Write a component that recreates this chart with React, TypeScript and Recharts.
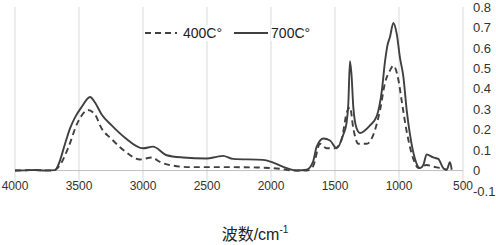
import React from 'react';
import { LineChart, Line, XAxis, YAxis, CartesianGrid, ReferenceLine, Legend, Label } from 'recharts';

const seriesNames = ['400C°', '700C°'];

const wn700 = [4000, 3922, 3844, 3766, 3688, 3662, 3609, 3570, 3531, 3479, 3414, 3375, 3323, 3245, 3141, 3000, 2922, 2815, 2688, 2502, 2424, 2375, 2297, 2063, 1984, 1877, 1799, 1721, 1672, 1643, 1591, 1539, 1487, 1435, 1409, 1396, 1383, 1370, 1357, 1331, 1305, 1227, 1174, 1135, 1109, 1091, 1070, 1044, 1018, 992, 966, 940, 914, 875, 836, 810, 784, 732, 693, 654, 627, 602, 588];
const abs700 = [0.0, 0.001, 0.003, 0.0, 0.002, 0.027, 0.131, 0.206, 0.26, 0.311, 0.36, 0.333, 0.274, 0.221, 0.161, 0.109, 0.117, 0.075, 0.064, 0.059, 0.067, 0.072, 0.057, 0.052, 0.039, 0.012, 0.0, 0.004, 0.042, 0.117, 0.157, 0.147, 0.109, 0.176, 0.236, 0.327, 0.535, 0.46, 0.31, 0.206, 0.184, 0.221, 0.266, 0.386, 0.535, 0.61, 0.655, 0.722, 0.67, 0.55, 0.46, 0.296, 0.176, 0.057, 0.012, 0.027, 0.079, 0.064, 0.057, 0.012, 0.004, 0.041, 0.004];

const wn400 = [4000, 3850, 3700, 3648, 3586, 3508, 3430, 3375, 3323, 3245, 3141, 3023, 2932, 2867, 2766, 2633, 2375, 2112, 1930, 1828, 1721, 1672, 1617, 1565, 1500, 1448, 1409, 1383, 1357, 1318, 1253, 1200, 1148, 1109, 1070, 1044, 1005, 979, 940, 888, 849, 784, 732, 680, 627];
const abs400 = [0.0, 0.002, 0.0, 0.027, 0.109, 0.238, 0.296, 0.274, 0.206, 0.154, 0.094, 0.054, 0.064, 0.042, 0.024, 0.017, 0.017, 0.015, 0.009, 0.0, 0.0, 0.02, 0.131, 0.109, 0.109, 0.154, 0.281, 0.31, 0.206, 0.131, 0.131, 0.176, 0.296, 0.43, 0.49, 0.513, 0.445, 0.341, 0.191, 0.057, 0.012, 0.027, 0.019, 0.012, 0.004];

const xTicks = [4000, 3500, 3000, 2500, 2000, 1500, 1000, 500];
const yTicks = [-0.1, 0, 0.1, 0.2, 0.3, 0.4, 0.5, 0.6, 0.7, 0.8];

const data700 = wn700.map((w, i) => ({ wn: w, v: abs700[i] }));
const data400 = wn400.map((w, i) => ({ wn: w, v: abs400[i] }));

const FONT = '"Liberation Sans", Arial, "Noto Sans CJK SC", sans-serif';
const LINE = '#404040';

const XTick = (props: any) => {
  const { x, y, payload } = props;
  return (
    <text x={x} y={y - 18} dy="0.71em" textAnchor="middle" fontSize={12} fill="#333" fontFamily={FONT}>
      {payload.value}
    </text>
  );
};

const TitleLabel = (props: any) => {
  const vb = props.viewBox || {};
  const cx = vb.x + vb.width / 2 + 16;
  return (
    <text x={cx} y={240} textAnchor="middle" fontSize={16} fill="#222" fontFamily={FONT}>
      <tspan>波数/cm</tspan>
      <tspan dy={-7} fontSize={10}>-1</tspan>
    </text>
  );
};

const LegendContent = () => (
  <div style={{ display: 'flex', alignItems: 'center', fontFamily: FONT, fontSize: 14, color: '#222', whiteSpace: 'nowrap' }}>
    <svg width={32} height={10} style={{ marginRight: 6 }}>
      <line x1={0} y1={5} x2={32} y2={5} stroke={LINE} strokeWidth={1.8} strokeDasharray="6 4" />
    </svg>
    <span style={{ background: '#fff' }}>{seriesNames[0]}</span>
    <svg width={34} height={10} style={{ marginLeft: 12, marginRight: 3 }}>
      <line x1={0} y1={5} x2={34} y2={5} stroke={LINE} strokeWidth={1.8} />
    </svg>
    <span style={{ background: '#fff' }}>{seriesNames[1]}</span>
  </div>
);

export default function App() {
  return (
    <div style={{ position: 'absolute', left: 0, top: 0, width: 496, height: 245, background: '#fff' }}>
      <LineChart width={496} height={245} margin={{ top: 7, right: 0, bottom: 0, left: 15 }}>
        <CartesianGrid horizontal={false} stroke="#d9d9d9" strokeWidth={1} verticalValues={xTicks} />
        <XAxis
          dataKey="wn"
          type="number"
          domain={[500, 4000]}
          reversed
          ticks={xTicks}
          allowDataOverflow
          axisLine={false}
          tickLine={false}
          height={38}
          tick={<XTick />}
          interval={0}
        >
          <Label content={<TitleLabel />} />
        </XAxis>
        <YAxis
          orientation="right"
          domain={[-0.1, 0.8]}
          ticks={yTicks}
          allowDataOverflow
          axisLine={false}
          tickLine={false}
          width={33}
          tickMargin={4}
          interval={0}
          tick={{ fontSize: 13, fill: '#333', fontFamily: FONT, textAnchor: 'start' }}
          tickFormatter={(v: number) => (v === 0 ? '0' : String(v))}
        />
        <ReferenceLine y={0} stroke="#bfbfbf" strokeWidth={1} />
        <Line
          data={data400}
          dataKey="v"
          name={seriesNames[0]}
          type="monotoneX"
          stroke={LINE}
          strokeWidth={1.9}
          strokeDasharray="6 4"
          dot={false}
          isAnimationActive={false}
        />
        <Line
          data={data700}
          dataKey="v"
          name={seriesNames[1]}
          type="monotoneX"
          stroke={LINE}
          strokeWidth={1.9}
          dot={false}
          isAnimationActive={false}
        />
        <Legend content={<LegendContent />} wrapperStyle={{ position: 'absolute', top: 25, left: 145, width: 'auto' }} />
      </LineChart>
    </div>
  );
}
